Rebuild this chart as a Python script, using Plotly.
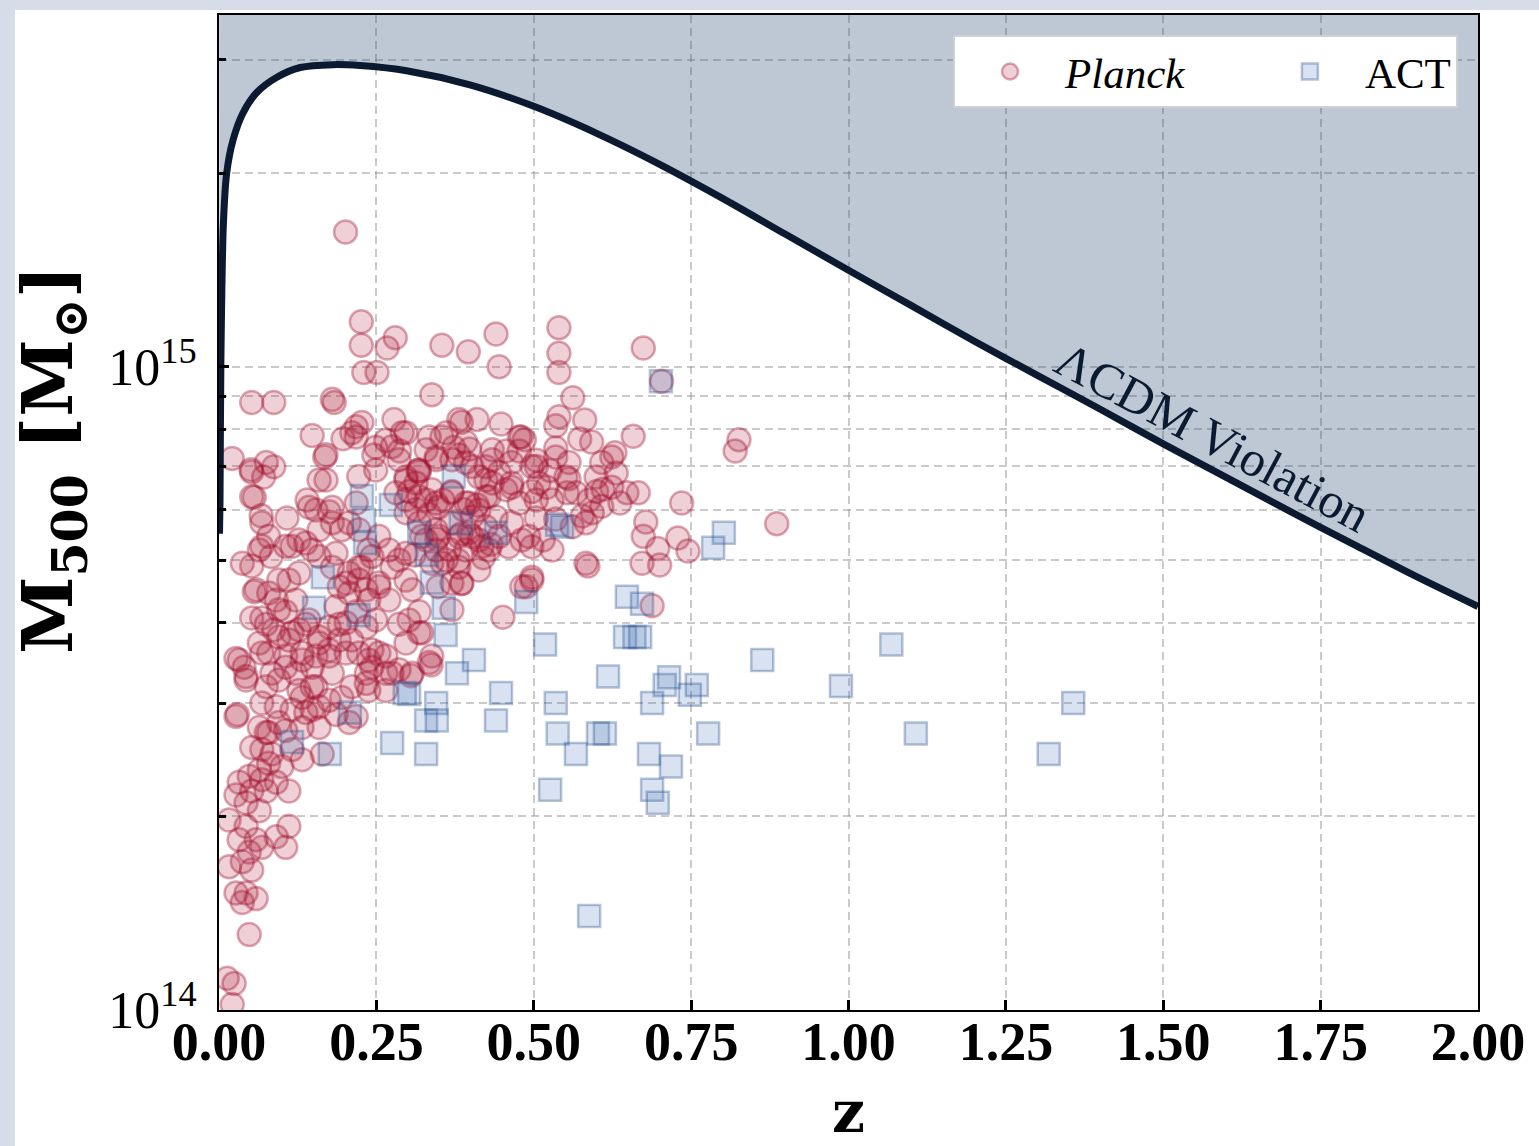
import plotly.graph_objects as go

# ---------------- data (z, M500 in units of 1e14 Msun) ----------------
curve_z = [0.0008, 0.0016, 0.003, 0.0068, 0.0122, 0.0222, 0.038, 0.06, 0.092, 0.129,
           0.181, 0.224, 0.3, 0.4, 0.5, 0.6, 0.7, 0.8, 0.9, 1.0,
           1.1, 1.2, 1.3, 1.4, 1.5, 1.6, 1.7, 1.8, 1.9, 2.0]
curve_m = [5.5, 6.17, 10.2, 16.5, 20.0, 22.5, 24.8, 26.7, 28.2, 29.2,
           29.5, 29.4, 28.84, 27.42, 25.41, 23.07, 20.65, 18.28, 16.07, 14.13,
           12.45, 10.96, 9.70, 8.59, 7.59, 6.73, 5.97, 5.31, 4.73, 4.24]

planck_points = [
    (0.201,16.2),(0.226,11.75),(0.226,10.8),(0.28,11.1),(0.267,10.7),(0.23,9.8),(0.251,9.8),
    (0.354,10.8),(0.396,10.55),(0.44,11.25),(0.445,10.0),(0.54,11.5),(0.54,10.5),(0.54,9.8),(0.674,10.7),
    (0.052,8.8),(0.087,8.8),(0.18,8.9),(0.183,8.8),(0.338,9.05),(0.562,8.95),(0.703,9.5),
    (0.54,8.36),(0.535,8.1),(0.581,8.27),(0.573,7.72),(0.592,7.64),(0.658,7.8),(0.629,7.35),(0.826,7.7),(0.82,7.4),
    (0.021,7.2),(0.051,6.92),(0.075,7.1),(0.087,6.99),(0.148,7.82),(0.168,7.24),(0.197,7.73),(0.218,8.07),
    (0.227,8.19),(0.218,7.78),(0.246,7.29),(0.278,8.28),(0.291,7.9),(0.265,7.69),(0.275,7.51),(0.334,7.78),
    (0.329,7.43),(0.354,7.78),(0.381,8.28),(0.41,8.28),(0.392,7.64),(0.381,7.29),(0.448,8.15),(0.434,7.43),
    (0.48,7.78),(0.504,7.16),(0.535,7.48),(0.465,7.1),(0.424,6.99),(0.211,7.9),(0.249,7.5),(0.297,7.9),
    (0.361,7.9),(0.434,7.17),(0.477,7.78),(0.535,7.24),(0.599,6.74),(0.608,7.1),(0.624,6.5),(0.624,7.24),
    (0.556,7.1),(0.631,6.84),(0.6,6.4),(0.61,6.45),(0.648,6.37),(0.666,6.37),(0.637,6.14),(0.735,6.14),
    (0.678,5.74),(0.674,5.45),(0.729,5.42),(0.697,5.22),(0.745,5.17),(0.672,4.95),(0.70,4.92),(0.586,4.9),
    (0.497,4.71),(0.488,4.55),(0.593,5.93),(0.577,5.86),(0.553,6.37),(0.556,6.7),(0.886,5.70),(0.688,4.25),(0.451,4.08),
    (0.526,6.9),(0.504,7.0),(0.485,7.7),(0.456,7.4),(0.445,6.85),(0.465,6.5),(0.497,6.4),(0.521,6.5),
    (0.535,5.8),(0.515,5.38),(0.497,5.25),(0.481,5.38),(0.46,5.25),(0.432,5.3),(0.413,5.38),(0.41,6.1),
    (0.388,6.0),(0.37,6.4),(0.356,6.2),(0.334,5.9),(0.313,6.0),(0.302,6.4),(0.316,6.9),(0.287,7.4),
    (0.398,7.45),(0.373,7.5),(0.385,8.2),(0.477,7.4),(0.385,5.5),(0.366,5.2),(0.346,5.4),(0.31,5.1),
    (0.355,4.95),(0.38,5.0),(0.42,5.05),(0.348,4.55),(0.385,4.6),
    (0.052,6.86),(0.17,7.3),(0.17,6.67),(0.222,6.75),(0.249,6.91),(0.286,7.17),(0.297,6.67),(0.318,6.86),
    (0.345,7.17),(0.402,7.0),(0.424,6.67),(0.056,6.27),(0.067,5.87),(0.108,5.82),(0.14,6.21),(0.154,5.99),
    (0.175,5.95),(0.079,5.45),(0.068,5.26),(0.083,5.07),(0.052,4.9),(0.106,5.26),(0.127,5.38),(0.148,5.19),
    (0.159,5.58),(0.18,5.72),(0.207,5.72),(0.218,6.14),(0.111,4.66),(0.127,4.78),(0.056,4.47),(0.079,4.45),
    (0.091,4.34),(0.068,4.07),(0.087,3.9),(0.106,4.16),(0.122,4.34),(0.032,3.5),(0.04,3.41),(0.043,3.26),
    (0.027,2.86),(0.064,3.72),(0.079,3.59),(0.084,3.34),(0.106,3.55),(0.095,3.8),(0.111,3.76),(0.127,3.9),
    (0.143,4.04),(0.159,3.72),(0.175,3.94),(0.186,4.24),(0.207,4.45),(0.222,4.66),(0.227,4.88),(0.207,4.78),
    (0.191,4.55),(0.18,4.88),(0.238,5.19),(0.254,5.45),(0.27,5.19),(0.286,5.01),(0.297,4.66),(0.307,4.5),
    (0.318,4.16),(0.302,4.04),(0.27,4.34),(0.254,4.55),(0.238,4.34),(0.249,4.04),(0.234,3.94),(0.218,4.16),
    (0.202,4.0),(0.191,3.76),(0.211,3.76),(0.254,3.59),(0.238,3.5),(0.234,3.34),(0.211,3.18),(0.195,3.06),
    (0.175,3.03),(0.154,3.18),(0.132,3.06),(0.116,2.93),(0.095,2.8),(0.075,2.7),(0.138,2.9),(0.159,2.96),
    (0.18,3.34),(0.148,3.41),(0.122,3.34),(0.132,3.59),(0.265,3.34),(0.286,3.38),(0.307,3.34),(0.334,3.47),
    (0.322,3.86),(0.265,3.14),(0.238,3.14),(0.218,2.86),(0.207,2.8),(0.37,4.61),(0.381,4.88),(0.361,5.01),
    (0.345,5.19),(0.329,5.38),(0.345,5.58),(0.37,5.72),(0.397,5.52),(0.402,5.84),(0.418,5.26),(0.424,5.64),
    (0.392,5.19),(0.318,5.72),(0.297,5.93),(0.281,6.37),(0.297,6.21),(0.329,6.21),(0.349,6.05),(0.313,6.6),
    (0.338,6.44),(0.37,6.37),(0.392,6.14),(0.413,5.99),(0.44,5.84),(0.429,6.28),
    (0.027,3.52),(0.043,3.3),(0.068,3.59),(0.106,3.41),(0.132,3.5),(0.154,3.55),(0.175,3.55),(0.202,3.59),
    (0.222,3.59),(0.243,3.41),(0.265,3.55),(0.275,3.34),(0.305,3.31),(0.337,3.44),(0.234,3.22),(0.186,2.88),
    (0.029,2.88),(0.075,3.18),(0.095,3.26),(0.127,3.14),(0.148,3.18),(0.068,3.0),(0.091,2.96),(0.148,2.93),
    (0.159,2.75),(0.064,2.75),(0.079,2.7),(0.106,2.72),(0.132,2.75),(0.052,2.56),(0.068,2.54),(0.084,2.5),
    (0.116,2.54),(0.132,2.45),(0.164,2.5),(0.10,2.39),(0.064,2.36),(0.079,2.42),(0.048,2.31),(0.068,2.28),
    (0.091,2.26),(0.111,2.19),(0.032,2.26),(0.027,2.16),(0.052,2.19),(0.075,2.19),(0.043,2.1),(0.064,2.04),
    (0.016,1.975),(0.043,1.93),(0.059,1.84),(0.091,1.86),(0.111,1.93),(0.106,1.79),(0.032,1.84),(0.068,1.79),
    (0.048,1.76),(0.016,1.67),(0.037,1.7),(0.052,1.65),(0.027,1.52),(0.043,1.52),(0.059,1.49),(0.037,1.47),
    (0.048,1.31),(0.013,1.12),(0.024,1.1),(0.021,1.02),
    (0.071,6.74),(0.052,6.28),(0.068,5.72),(0.064,5.19),(0.037,4.95),(0.059,4.5),(0.095,4.66),(0.116,5.26),
    (0.159,6.67),(0.18,6.05),(0.143,6.05),(0.138,5.32),(0.159,5.07),(0.186,5.13),(0.195,5.58),(0.222,5.58),
    (0.222,4.88),(0.243,5.07),(0.202,4.61),(0.234,4.5),(0.254,4.61),(0.275,4.88),(0.297,5.13),(0.322,5.45),
    (0.338,4.95),(0.349,5.45),(0.381,5.45),(0.402,5.45),(0.445,5.45),(0.465,5.72),(0.492,5.45),(0.504,5.82),
    (0.529,5.19),(0.561,5.64),(0.583,5.72),(0.583,4.95),(0.529,6.21),(0.504,6.21),(0.477,6.14),(0.456,6.44),
    (0.424,6.28),(0.397,6.14),(0.345,6.14),(0.318,6.28),(0.297,6.74),(0.318,6.91),(0.345,7.24),(0.37,7.17),
    (0.392,7.1),(0.413,6.74),(0.434,6.6),(0.465,6.6),(0.497,7.0),(0.508,6.6),(0.551,6.74),(0.567,6.37),
    (0.588,6.21),(0.608,6.07),(0.052,4.07),(0.075,3.98),(0.095,4.19),(0.116,3.86),(0.138,3.98),(0.159,3.8),
    (0.175,3.63),(0.191,3.98),(0.243,3.63),(0.286,3.98),(0.297,3.72),(0.318,3.86),(0.338,3.55),(0.37,4.19),
    (0.386,4.61),(0.413,4.83),(0.429,5.19),(0.497,4.66),(0.481,4.55),
]

act_points = [
    (0.702,9.5),(0.802,5.52),(0.785,5.23),(0.648,4.39),(0.672,4.28),(0.645,3.8),(0.66,3.8),(0.669,3.8),
    (0.518,3.7),(0.863,3.5),(1.068,3.7),(0.988,3.19),(0.618,3.3),(0.715,3.29),(0.708,3.2),(0.759,3.2),
    (0.748,3.09),(0.535,3.0),(0.688,3.0),(1.357,3.0),(0.448,3.11),(0.405,3.5),(0.378,3.34),(0.302,3.1),
    (0.295,3.11),(0.345,3.0),(0.329,2.82),(0.346,2.82),(0.44,2.82),(0.275,2.6),(0.329,2.5),(0.176,2.5),
    (0.116,2.61),(0.208,2.9),(0.538,2.69),(0.602,2.69),(0.613,2.69),(0.777,2.69),(1.107,2.69),(0.567,2.5),
    (0.683,2.5),(0.718,2.39),(1.318,2.5),(0.526,2.2),(0.688,2.2),(0.697,2.1),(0.588,1.4),
    (0.227,6.3),(0.273,6.1),(0.373,6.75),(0.23,5.78),(0.232,5.32),(0.318,5.52),(0.33,5.1),(0.384,5.71),
    (0.44,5.52),(0.165,4.71),(0.151,4.22),(0.222,4.11),(0.338,4.62),(0.357,4.22),(0.36,3.83),(0.537,5.68),
    (0.545,5.64),(0.488,4.31),
]

x_tick_vals = [0, 0.25, 0.5, 0.75, 1.0, 1.25, 1.5, 1.75, 2.0]
y_tick_vals = [1e14, 1e15]
y_tick_text = ["10<sup>14</sup>", "10<sup>15</sup>"]
y_minor_vals = [2e14, 3e14, 4e14, 5e14, 6e14, 7e14, 8e14, 9e14, 2e15, 3e15]

UNIT = 1e14
FONT = "Liberation Serif"
TITLE_FONT = "DejaVu Serif"
NAVY = "#0b1a30"
NBSP = "\u00a0"

pz = [p[0] for p in planck_points]
pm = [p[1] * UNIT for p in planck_points]
az = [p[0] for p in act_points]
am = [p[1] * UNIT for p in act_points]
cm = [m * UNIT for m in curve_m]

fig = go.Figure()

# invisible copy of the curve used as the lower boundary of the fill
fig.add_trace(go.Scatter(x=curve_z, y=cm, mode="lines",
                         line=dict(width=0, shape="spline", smoothing=0.8, color="rgba(0,0,0,0)"),
                         showlegend=False, hoverinfo="skip"))
fig.add_trace(go.Scatter(x=[0, 2], y=[1e16, 1e16], mode="lines",
                         line=dict(width=0, color="rgba(0,0,0,0)"),
                         fill="tonexty", fillcolor="rgba(38,72,112,0.3)",
                         showlegend=False, hoverinfo="skip"))

fig.add_trace(go.Scatter(
    x=pz, y=pm, mode="markers", name="<i>Planck</i>" + NBSP * 6,
    marker=dict(symbol="circle", size=23, color="rgba(170,20,50,0.2)",
                line=dict(color="rgba(160,15,45,0.36)", width=2.5))))
fig.add_trace(go.Scatter(
    x=az, y=am, mode="markers", name="ACT",
    marker=dict(symbol="square", size=22, color="rgba(60,110,180,0.2)",
                line=dict(color="rgba(40,80,140,0.34)", width=2.5))))

fig.add_trace(go.Scatter(x=curve_z, y=cm, mode="lines",
                         line=dict(width=7, shape="spline", smoothing=0.8, color=NAVY),
                         showlegend=False, hoverinfo="skip"))

grid_col = "rgba(150,150,150,0.5)"
gdash = "8px,5px"

fig.update_xaxes(
    range=[0, 2], tickvals=x_tick_vals, tickformat=".2f",
    ticks="inside", ticklen=10, tickwidth=3, tickcolor="black",
    showline=True, linecolor="black", linewidth=2, mirror=True,
    showgrid=True, gridcolor=grid_col, griddash=gdash, gridwidth=1.5,
    zeroline=False, ticklabelstandoff=-17,
    tickfont=dict(family=FONT, size=54, color="black", weight="bold"),
)
fig.update_yaxes(
    type="log", range=[14, 15.547], tickvals=y_tick_vals, ticktext=y_tick_text,
    ticks="inside", ticklen=10, tickwidth=3, tickcolor="black",
    showline=True, linecolor="black", linewidth=2, mirror=True,
    showgrid=True, gridcolor=grid_col, griddash=gdash, gridwidth=1.5,
    zeroline=False, ticklabelstandoff=10,
    tickfont=dict(family=FONT, size=52, color="black"),
    minor=dict(tickvals=y_minor_vals, ticks="inside", ticklen=7, tickwidth=2.5,
               tickcolor="black", showgrid=True, gridcolor=grid_col,
               griddash=gdash, gridwidth=1.5),
)

L, R, T, B = 219, 61, 15, 136
W, H = 1539, 1146
pw, ph = W - L - R, H - T - B

def px(xp):
    return (xp - L) / pw

def py(yp):
    return (H - B - yp) / ph

band = "#d6dde8"
fig.update_layout(
    width=W, height=H, autosize=False,
    margin=dict(l=L, r=R, t=T, b=B, pad=0),
    paper_bgcolor="white", plot_bgcolor="white",
    font=dict(family=FONT, color="black"),
    showlegend=True,
    legend=dict(orientation="h", traceorder="normal",
                x=px(1458), xanchor="right", y=py(35), yanchor="top",
                bgcolor="white", bordercolor="#d0d0d0", borderwidth=2,
                font=dict(family=FONT, size=43, color="black"),
                itemwidth=100, tracegroupgap=0),
    shapes=[
        dict(type="rect", xref="paper", yref="paper", x0=px(0), x1=px(15), y0=py(H), y1=py(0),
             fillcolor=band, line=dict(width=0), layer="below"),
        dict(type="rect", xref="paper", yref="paper", x0=px(0), x1=px(W), y0=py(10), y1=py(0),
             fillcolor=band, line=dict(width=0), layer="below"),
    ],
    annotations=[
        dict(text="ΛCDM Violation", xref="paper", yref="paper", x=px(1213), y=py(437),
             xanchor="center", yanchor="middle",
             showarrow=False, textangle=28, font=dict(family=FONT, size=50, color=NAVY)),
        dict(text="<b>M<sub>500</sub> [M<sub>⊙</sub>]</b>", xref="paper", yref="paper",
             x=px(52), y=py(460), xanchor="center", yanchor="middle",
             showarrow=False, textangle=-90,
             font=dict(family=TITLE_FONT, size=70, color="black")),
        dict(text="<b>z</b>", xref="paper", yref="paper", x=px(848), y=py(1112),
             xanchor="center", yanchor="middle",
             showarrow=False, font=dict(family=TITLE_FONT, size=58, color="black")),
    ],
)

fig.write_html("out.html")
